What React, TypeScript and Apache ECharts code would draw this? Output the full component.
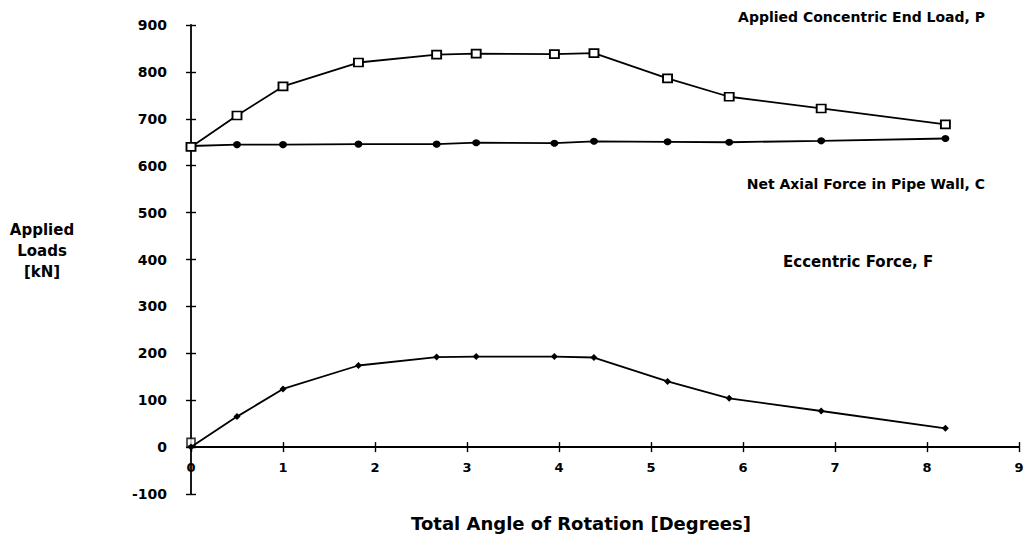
import React, { useEffect, useRef } from "react";
import * as echarts from "echarts";

const angle = [0, 0.5, 1.0, 1.82, 2.67, 3.1, 3.95, 4.38, 5.18, 5.85, 6.85, 8.2];
const loadP = [640, 707, 769, 820, 837, 839, 838, 840, 786, 747, 722, 688];
const forceC = [642, 645, 645, 646, 646, 649, 648, 652, 651, 650, 653, 658];
const forceF = [0, 65, 124, 174, 192, 193, 193, 191, 140, 104, 77, 40];
const originMark = [[0, 10]];

const yTicks = { min: -100, max: 900, interval: 100 };
const xTicks = { min: 0, max: 9, interval: 1 };

const FONT = "'DejaVu Sans', 'Liberation Sans', sans-serif";
const GRID_H = 469;
const ZERO_OFFSET = -(GRID_H * (0 - yTicks.min)) / (yTicks.max - yTicks.min);

export default function App() {
  const ref = useRef<HTMLDivElement>(null);
  useEffect(() => {
    if (!ref.current) return;
    const chart = echarts.init(ref.current, undefined, { renderer: "svg" });
    const pairs = (ys: number[]) => angle.map((x, i) => [x, ys[i]]);
    const lineStyle = { color: "#000", width: 1.8 };
    const tickStyle = { color: "#000", width: 1.4 };
    chart.setOption({
      animation: false,
      backgroundColor: "#fff",
      grid: { left: 191, top: 25, width: 828, height: GRID_H, containLabel: false },
      xAxis: [
        {
          type: "value",
          position: "bottom",
          offset: ZERO_OFFSET,
          ...xTicks,
          splitLine: { show: false },
          axisLine: { show: true, onZero: false, lineStyle: { color: "#000", width: 1.8 } },
          axisTick: { show: true, inside: false, length: 5, lineStyle: tickStyle },
          axisLabel: {
            color: "#000",
            fontFamily: FONT,
            fontWeight: "bold",
            fontSize: 13,
            margin: 14,
          },
        },
        {
          type: "value",
          position: "bottom",
          offset: ZERO_OFFSET,
          ...xTicks,
          splitLine: { show: false },
          axisLine: { show: false, onZero: false },
          axisTick: { show: true, inside: true, length: 5, lineStyle: tickStyle },
          axisLabel: { show: false },
        },
      ],
      yAxis: [
        {
          type: "value",
          position: "left",
          ...yTicks,
          splitLine: { show: false },
          axisLine: { show: true, onZero: false, lineStyle: { color: "#000", width: 1.8 } },
          axisTick: { show: true, inside: false, length: 5, lineStyle: tickStyle },
          axisLabel: {
            color: "#000",
            fontFamily: FONT,
            fontWeight: "bold",
            fontSize: 14,
            margin: 24,
          },
        },
        {
          type: "value",
          position: "left",
          ...yTicks,
          splitLine: { show: false },
          axisLine: { show: false, onZero: false },
          axisTick: { show: true, inside: true, length: 5, lineStyle: tickStyle },
          axisLabel: { show: false },
        },
      ],
      series: [
        {
          name: "Applied Concentric End Load, P",
          type: "line",
          data: pairs(loadP),
          symbol: "rect",
          symbolSize: [9, 8],
          itemStyle: { color: "#fff", borderColor: "#000", borderWidth: 1.8 },
          lineStyle,
          z: 3,
        },
        {
          name: "Net Axial Force in Pipe Wall, C",
          type: "line",
          data: pairs(forceC),
          symbol: "circle",
          symbolSize: [8, 7],
          itemStyle: { color: "#000", borderColor: "#000", borderWidth: 0 },
          lineStyle,
          z: 2,
        },
        {
          name: "Eccentric Force, F",
          type: "line",
          data: pairs(forceF),
          symbol: "diamond",
          symbolSize: 7,
          itemStyle: { color: "#000", borderColor: "#000", borderWidth: 0 },
          lineStyle,
          z: 2,
        },
        {
          name: "origin",
          type: "scatter",
          data: originMark,
          symbol: "rect",
          symbolSize: [8, 8],
          itemStyle: { color: "#fff", borderColor: "#000", borderWidth: 1.6 },
          z: 1,
        },
      ],
      graphic: [
        {
          type: "text",
          x: 985,
          y: 17,
          style: {
            text: "Applied Concentric End Load, P",
            font: `bold 14px ${FONT}`,
            fill: "#000",
            align: "right",
            verticalAlign: "middle",
          },
        },
        {
          type: "text",
          x: 985,
          y: 184,
          style: {
            text: "Net Axial Force in Pipe Wall, C",
            font: `bold 14px ${FONT}`,
            fill: "#000",
            align: "right",
            verticalAlign: "middle",
          },
        },
        {
          type: "text",
          x: 783,
          y: 262,
          style: {
            text: "Eccentric Force, F",
            font: `bold 15px ${FONT}`,
            fill: "#000",
            align: "left",
            verticalAlign: "middle",
          },
        },
        {
          type: "text",
          x: 42,
          y: 219,
          style: {
            text: "Applied\nLoads\n[kN]",
            font: `bold 15px ${FONT}`,
            fill: "#000",
            align: "center",
            verticalAlign: "top",
            lineHeight: 21,
          },
        },
        {
          type: "text",
          x: 581,
          y: 523,
          style: {
            text: "Total Angle of Rotation [Degrees]",
            font: `bold 18px ${FONT}`,
            fill: "#000",
            align: "center",
            verticalAlign: "middle",
          },
        },
      ],
    });
    return () => chart.dispose();
  }, []);
  return (
    <div
      ref={ref}
      style={{ position: "fixed", left: 0, top: 0, width: 1030, height: 557, background: "#fff" }}
    />
  );
}
